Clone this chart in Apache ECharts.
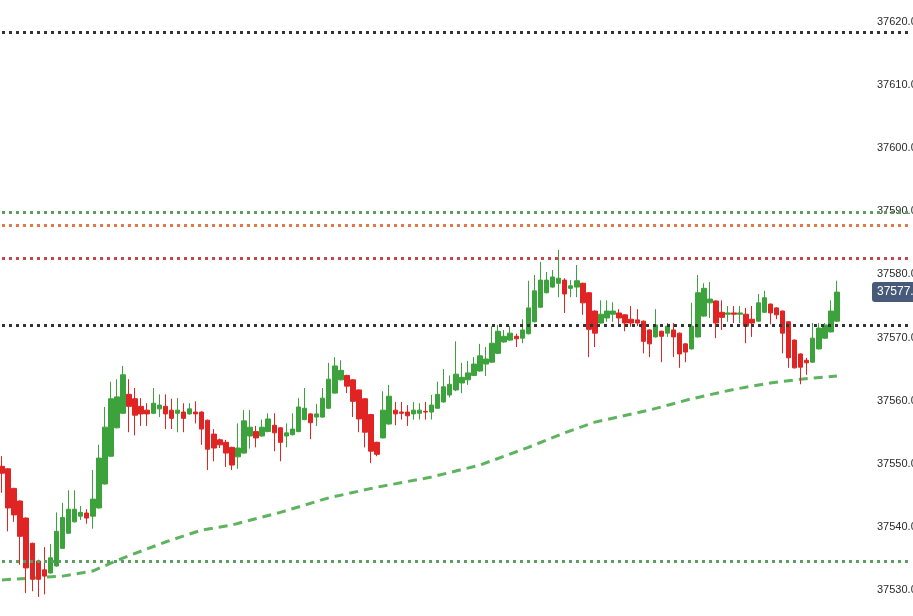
<!DOCTYPE html>
<html>
<head>
<meta charset="utf-8">
<script src="https://cdn.jsdelivr.net/npm/echarts@6/dist/echarts.min.js"></script>
<style>
html,body{margin:0;padding:0;background:#fff;}
#chart{width:913px;height:616px;}
</style>
</head>
<body>
<div id="chart"></div>
<script>
// ---- data ----
const opens = [
37549.6,37549.2,37546.1,37544.1,37541.4,37537.4,37534.6,37533.2,37532.7,37533.8,
37536.6,37539.0,37540.8,37541.7,37542.2,37541.7,37543.0,37546.8,37551.2,37555.7,
37558.0,37561.0,37560.3,37559.1,37558.5,37558.0,37558.7,37559.1,37558.5,37558.0,
37558.2,37557.9,37558.2,37558.2,37556.9,37554.7,37553.8,37553.4,37552.6,37551.1,
37551.7,37554.4,37555.1,37554.4,37555.1,37556.1,37555.7,37554.4,37554.6,37555.1,
37557.0,37557.9,37557.4,37557.4,37558.8,37561.2,37563.3,37564.0,37563.3,37561.7,
37560.3,37557.8,37553.4,37554.1,37556.3,37558.5,37558.2,37558.2,37557.9,37558.0,
37558.3,37558.2,37558.8,37559.8,37560.9,37561.7,37562.8,37563.3,37564.0,37564.7,
37565.8,37566.1,37567.5,37569.3,37569.6,37570.2,37569.9,37570.6,37572.5,37574.8,
37577.1,37578.0,37578.6,37579.1,37577.8,37578.0,37578.6,37577.1,37574.2,37572.3,
37573.1,37573.7,37573.9,37573.6,37572.9,37572.8,37572.6,37571.2,37570.1,37571.0,
37570.7,37571.2,37570.7,37569.0,37568.2,37570.1,37573.4,37575.5,37575.8,37574.0,
37573.7,37573.9,37573.7,37573.7,37572.9,37572.6,37574.0,37575.3,37574.7,37574.2,
37572.5,37569.6,37567.4,37566.4,37566.1,37568.2,37569.9,37570.9,37572.6
];
const closes = [
37548.5,37543.0,37541.9,37538.5,37533.5,37531.7,37531.7,37532.2,37535.1,37539.3,
37541.5,37542.8,37542.8,37542.3,37541.4,37544.4,37550.9,37555.8,37560.3,37560.6,
37564.1,37559.1,37557.7,37557.9,37557.9,37559.6,37559.3,37557.9,37557.2,37558.5,
37557.2,37558.7,37557.9,37555.5,37552.3,37552.5,37553.0,37551.7,37549.8,37552.5,
37556.8,37555.8,37554.1,37555.8,37557.1,37554.9,37553.4,37554.9,37555.5,37559.0,
37558.8,37556.5,37557.9,37560.4,37563.4,37565.5,37564.8,37562.3,37559.9,37557.1,
37555.0,37552.0,37551.5,37558.5,37560.7,37557.9,37558.0,37557.6,37558.5,37558.5,
37558.2,37559.3,37561.0,37562.2,37562.6,37564.2,37563.7,37564.4,37565.8,37567.1,
37566.6,37569.1,37571.0,37570.2,37570.7,37569.8,37571.2,37574.7,37577.4,37579.1,
37579.1,37579.6,37579.4,37576.9,37578.2,37579.0,37575.5,37571.3,37570.7,37573.7,
37574.2,37574.2,37573.1,37572.3,37572.3,37572.3,37569.4,37569.0,37572.0,37570.2,
37571.8,37570.1,37567.4,37567.7,37571.8,37577.1,37577.8,37576.1,37572.3,37573.2,
37573.9,37573.7,37573.9,37571.8,37572.3,37575.5,37576.3,37573.9,37573.6,37570.7,
37566.8,37565.2,37565.3,37566.0,37569.9,37571.5,37572.0,37574.2,37577.2
];
const lows = [
37545.4,37539.3,37540.8,37534.0,37529.5,37529.8,37528.9,37529.3,37532.6,37533.7,
37536.5,37538.9,37540.7,37541.1,37540.5,37539.7,37542.9,37546.7,37551.1,37555.6,
37557.9,37555.0,37554.5,37556.0,37556.0,37557.9,37557.4,37555.5,37555.5,37555.0,
37555.0,37557.8,37556.4,37553.0,37549.0,37550.4,37552.5,37549.5,37549.0,37549.2,
37551.6,37552.4,37552.6,37554.3,37555.0,37552.0,37550.4,37552.6,37554.5,37555.0,
37556.9,37553.9,37556.0,37557.3,37558.7,37561.1,37563.2,37561.2,37557.4,37555.0,
37552.6,37550.1,37551.2,37554.0,37556.2,37556.1,37557.0,37556.0,37557.0,37557.0,
37557.0,37557.0,37558.7,37559.7,37560.5,37561.5,37561.2,37562.5,37563.9,37564.6,
37563.9,37566.0,37567.4,37569.2,37569.5,37568.5,37569.1,37570.5,37572.4,37574.7,
37577.0,37577.9,37576.4,37573.9,37576.4,37576.4,37573.6,37566.9,37568.5,37572.2,
37572.5,37572.5,37571.8,37571.0,37571.7,37571.8,37567.5,37566.9,37570.0,37566.1,
37570.1,37566.9,37565.2,37566.1,37568.1,37570.0,37573.3,37573.1,37569.9,37571.2,
37572.5,37572.3,37572.3,37569.1,37570.1,37572.5,37573.9,37572.1,37572.9,37567.5,
37565.2,37565.1,37562.6,37564.1,37566.0,37568.1,37569.8,37570.8,37572.5
];
const highs = [
37551.2,37549.3,37546.2,37544.2,37541.5,37537.5,37534.8,37536.8,37537.3,37542.3,
37543.8,37545.8,37545.8,37543.3,37542.8,37549.0,37553.0,37559.0,37563.0,37563.4,
37565.5,37563.4,37562.0,37560.4,37559.6,37562.0,37561.0,37561.0,37560.3,37560.4,
37559.6,37559.6,37559.9,37558.3,37557.0,37555.5,37554.0,37553.8,37552.7,37556.4,
37558.5,37558.5,37556.0,37557.0,37558.0,37558.0,37555.8,37556.4,37558.0,37560.4,
37562.0,37558.0,37559.5,37562.0,37566.0,37566.9,37566.4,37564.1,37563.4,37561.8,
37560.4,37557.9,37553.5,37561.5,37562.5,37559.8,37559.8,37559.3,37559.8,37559.6,
37559.8,37560.9,37563.0,37565.0,37564.0,37569.4,37566.0,37566.3,37566.9,37569.0,
37568.5,37571.8,37572.0,37571.2,37571.8,37570.6,37572.9,37579.0,37579.9,37582.0,
37580.4,37580.7,37583.9,37579.4,37579.1,37581.5,37578.7,37577.2,37574.3,37575.9,
37575.9,37575.6,37574.5,37573.7,37575.0,37574.5,37572.7,37571.3,37574.5,37571.1,
37572.3,37572.3,37570.8,37569.1,37575.5,37579.9,37578.6,37578.8,37575.9,37575.9,
37575.0,37575.0,37575.0,37574.7,37575.0,37576.9,37577.4,37575.4,37574.8,37574.3,
37572.6,37569.7,37567.5,37566.8,37572.3,37572.3,37572.3,37575.9,37579.0
];
const maIndex = [0,5,10,15,19,22,27,33,38,46,54,62,71,79,87,93,98,107,114,121,127,132,138];
const maValue = [37531.6,37531.9,37532.2,37533.0,37534.7,37535.8,37537.6,37539.5,37540.3,37542.3,
37544.6,37546.3,37547.9,37549.8,37552.6,37554.9,37556.6,37558.5,37560.3,37561.8,37562.8,37563.4,37563.9];
// horizontal levels
const levelValues = [37618.4, 37589.9, 37587.8, 37582.6, 37572.0, 37534.6];
const levelColors = ['#333333', '#5a9f5f', '#e07a4c', '#c2484c', '#333333', '#5a9f5f'];
// y-axis ticks
const yMin = 37530, yMax = 37620, yStep = 10;

// ---- build ----
const categories = opens.map((_, i) => String(i + 1));
const ohlc = opens.map((o, i) => [o, closes[i], lows[i], highs[i]]);
const ma = opens.map(() => null);
maIndex.forEach((idx, k) => { ma[idx] = maValue[k]; });
const lastClose = closes[closes.length - 1];

const markData = levelValues.map((v, i) => ({
  yAxis: v,
  lineStyle: { color: levelColors[i], type: [3, 4], width: 3, cap: 'butt' },
  label: { show: false }
}));
markData.push({
  yAxis: lastClose,
  lineStyle: { color: 'rgba(0,0,0,0)', width: 1, type: 'solid' },
  label: {
    show: true, position: 'end', distance: -37.5,
    formatter: () => lastClose.toFixed(1),
    backgroundColor: '#475a7a', color: '#fff', fontSize: 12, opacity: 1,
    fontFamily: 'Liberation Sans, Arial, sans-serif',
    padding: [4, 4, 4, 5], borderRadius: 3
  }
});

const chart = echarts.init(document.getElementById('chart'));
chart.setOption({
  animation: false,
  backgroundColor: '#fff',
  grid: { left: 2, right: 3.5, top: 22, bottom: 26, containLabel: false, outerBoundsMode: 'none' },
  xAxis: {
    type: 'category', data: categories, boundaryGap: false, max: 150,
    show: false
  },
  yAxis: {
    type: 'value', position: 'right', min: yMin, max: yMax, interval: yStep,
    axisLine: { show: false }, axisTick: { show: false }, splitLine: { show: false },
    axisLabel: {
      inside: false, align: 'left', margin: -32.5, color: '#2a2a2a', fontSize: 11,
      fontFamily: 'Liberation Sans, Arial, sans-serif',
      formatter: v => v.toFixed(1)
    }
  },
  series: [
    {
      type: 'line', data: ma, connectNulls: true, showSymbol: false, symbol: 'none',
      smooth: false, clip: false, silent: true, z: 1,
      lineStyle: { color: '#5eb35e', width: 3, type: [9, 6] }
    },
    {
      type: 'candlestick', data: ohlc, barWidth: 5, clip: false, z: 3,
      itemStyle: {
        color: '#3ca23c', color0: '#e02424',
        borderColor: '#3ca23c', borderColor0: '#e02424', borderWidth: 1
      },
      markLine: {
        silent: true, symbol: ['none', 'none'], animation: false,
        data: markData
      }
    }
  ]
});
</script>
</body>
</html>
